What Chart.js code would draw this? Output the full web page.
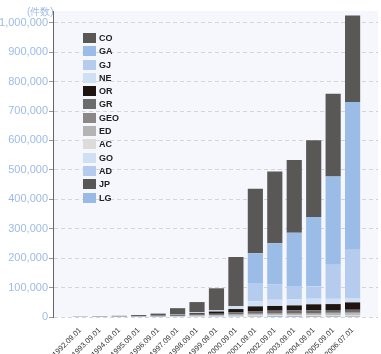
<!DOCTYPE html>
<html>
<head>
<meta charset="utf-8">
<script src="https://cdn.jsdelivr.net/npm/chart.js@4/dist/chart.umd.min.js"></script>
<style>
  html, body { margin: 0; padding: 0; background: #ffffff; }
  #wrap { position: relative; width: 381px; height: 354px; }
  #unit { position: absolute; left: 27px; top: 5px; font: 10px "Liberation Sans", Arial, sans-serif; color: #9dbbe5; }
  #legend { position: absolute; left: 83px; top: 33px; font: bold 9px "Liberation Sans", Arial, sans-serif; color: #222; }
  .li { position: relative; height: 13.3px; line-height: 11px; }
  .sw { position: absolute; left: 0; top: 0; width: 13px; height: 10px; }
  .tx { position: absolute; left: 16px; top: 0; }
</style>
</head>
<body>
<div id="wrap">
  <canvas id="c" width="381" height="354"></canvas>
  <div id="unit">(件数)</div>
  <div id="legend"></div>
</div>
<script>
// Categories (x-axis tick labels)
const categories = ["1992.09.01","1993.09.01","1994.09.01","1995.09.01","1996.09.01","1997.09.01","1998.09.01","1999.09.01","2000.09.01","2001.09.01","2002.09.01","2003.09.01","2004.09.01","2005.09.01","2006.07.01"];

// Series values (bottom of stack first)
const LG  = [0,0,0,0,0,0,0,0,0,0,300,600,900,1200,1500];
const JP  = [0,0,0,0,0,0,0,0,0,1000,1000,1000,1000,1000,1000];
const AD  = [50,80,100,150,200,250,280,300,300,300,300,300,300,300,300];
const GO  = [30,50,80,120,200,350,450,550,650,700,720,740,750,760,780];
const AC  = [200,350,500,700,1000,1800,2300,2700,3000,3100,3200,3300,3350,3400,3450];
const ED  = [40,80,150,250,400,1000,2000,2500,3500,4000,4300,4500,4700,4900,5100];
const GEO = [30,50,80,120,200,400,700,1000,1500,2000,2200,2400,2600,2800,3000];
const GR  = [50,100,200,300,500,1200,2500,4000,7000,9000,9500,9500,9500,9500,9500];
const OR  = [150,200,300,500,1000,2500,4500,7500,11000,16000,16000,17000,20000,20000,25000];
const NE  = [50,100,200,300,600,1500,3000,4000,10000,17000,21000,21000,19000,18000,15000];
const GJ  = [0,0,0,0,0,0,0,0,0,60000,53000,45000,42000,116000,164000];
const GA  = [0,0,0,0,0,0,0,0,0,104000,139000,181000,236000,300000,502000];
const CO  = [600,1500,2400,4200,7500,21000,35000,75000,167000,219000,244000,247000,261000,281000,294000];

// Y tick values
const yTicks = [0,100000,200000,300000,400000,500000,600000,700000,800000,900000,1000000];

const seriesNames = ["LG","JP","AD","GO","AC","ED","GEO","GR","OR","NE","GJ","GA","CO"];
const seriesData  = [LG, JP, AD, GO, AC, ED, GEO, GR, OR, NE, GJ, GA, CO];
const seriesColors = ["#98bae4","#5a5856","#b4cbee","#cfe0f3","#dcdcdc","#b4b4b4","#8c8888","#6c6c6c","#1e1510","#d0e0f4","#b6ccee","#9abce6","#5a5856"];

const datasets = seriesNames.map((n, k) => ({
  label: n,
  data: seriesData[k].map((v, i) => ({x: i, y: v})),
  backgroundColor: seriesColors[k],
  borderWidth: 0,
  barPercentage: 0.78,
  categoryPercentage: 1.0
}));

const bgPlugin = {
  id: 'bg',
  beforeDraw(chart) {
    const a = chart.chartArea, ctx = chart.ctx;
    ctx.save();
    ctx.fillStyle = '#f5f7fc';
    ctx.fillRect(a.left, a.top, a.right - a.left, a.bottom - a.top);
    ctx.restore();
  }
};

const fmt = v => String(v).replace(/\B(?=(\d{3})+(?!\d))/g, ',');

const chart = new Chart(document.getElementById('c'), {
  type: 'bar',
  data: { datasets },
  plugins: [bgPlugin],
  options: {
    responsive: false,
    animation: false,
    layout: { padding: { top: 11, right: 3, left: 0, bottom: 0 } },
    plugins: { legend: { display: false }, tooltip: { enabled: false } },
    scales: {
      x: {
        type: 'linear',
        stacked: true,
        min: -0.85,
        max: 14.75,
        afterBuildTicks: s => { s.ticks = categories.map((c, i) => ({ value: i })); },
        afterFit: s => { s.height = 37; },
        grid: { display: false },
        border: { display: false },
        ticks: {
          autoSkip: false,
          minRotation: 45,
          maxRotation: 45,
          padding: 1,
          color: '#333',
          font: { size: 7.5, family: '"Liberation Sans", Arial, sans-serif' },
          callback: v => categories[v] !== undefined ? categories[v] : ''
        }
      },
      y: {
        stacked: true,
        min: 0,
        max: 1040000,
        afterBuildTicks: s => { s.ticks = yTicks.map(v => ({ value: v })); },
        afterFit: s => { s.width = 53; },
        grid: { color: '#d4d4da', tickColor: '#999', tickLength: 4, lineWidth: 1 },
        border: { display: true, color: '#666', width: 1, dash: [4, 3] },
        ticks: {
          padding: 1,
          color: '#9dbbe5',
          font: { size: 11, family: '"Liberation Sans", Arial, sans-serif' },
          callback: v => fmt(v)
        }
      }
    }
  }
});

// HTML legend, top item = top of stack
const leg = document.getElementById('legend');
for (let k = seriesNames.length - 1; k >= 0; k--) {
  const d = document.createElement('div'); d.className = 'li';
  const sw = document.createElement('span'); sw.className = 'sw'; sw.style.background = seriesColors[k];
  const tx = document.createElement('span'); tx.className = 'tx'; tx.textContent = seriesNames[k];
  d.appendChild(sw); d.appendChild(tx); leg.appendChild(d);
}
</script>
</body>
</html>
